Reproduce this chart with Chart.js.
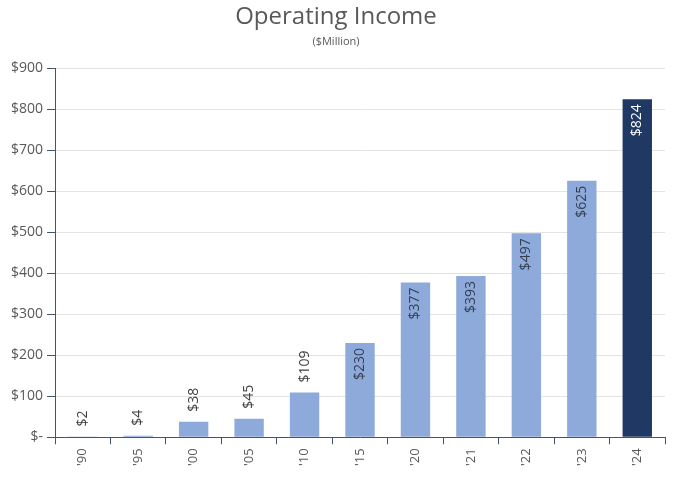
<!DOCTYPE html>
<html>
<head>
<meta charset="utf-8">
<script src="https://cdn.jsdelivr.net/npm/chart.js@4"></script>
<style>
  html, body { margin: 0; padding: 0; background: #fff; }
  #wrap { width: 673px; height: 484px; }
</style>
</head>
<body>
<div id="wrap"><canvas id="chart"></canvas></div>
<script>
const years = ["'90", "'95", "'00", "'05", "'10", "'15", "'20", "'21", "'22", "'23", "'24"]
const income = [2, 4, 38, 45, 109, 230, 377, 393, 497, 625, 824]
const barColors = ['#8eaadb', '#8eaadb', '#8eaadb', '#8eaadb', '#8eaadb', '#8eaadb',
  '#8eaadb', '#8eaadb', '#8eaadb', '#8eaadb', '#1f3864']
const labelColors = ['#333f50', '#333f50', '#333f50', '#333f50', '#333f50', '#333f50',
  '#333f50', '#333f50', '#333f50', '#333f50', '#ffffff']
const insideFrom = 200

const fontFamily = "'Open Sans', 'Noto Sans', sans-serif"

// draws the rotated value labels, inside the bar top for tall bars, above for short ones
const barLabels = {
  id: 'barLabels',
  afterDatasetsDraw (chart) {
    const ctx = chart.ctx
    const meta = chart.getDatasetMeta(0)
    ctx.save()
    ctx.font = '14px ' + fontFamily
    ctx.textBaseline = 'middle'
    meta.data.forEach((bar, i) => {
      const v = income[i]
      const text = '$' + v
      ctx.save()
      ctx.translate(bar.x, bar.y)
      ctx.rotate(-Math.PI / 2)
      if (v >= insideFrom) {
        ctx.textAlign = 'right'
        ctx.fillStyle = labelColors[i]
        ctx.fillText(text, -5, 0)
      } else {
        ctx.textAlign = 'left'
        ctx.fillStyle = '#404040'
        ctx.fillText(text, 10, 0)
      }
      ctx.restore()
    })
    ctx.restore()
  }
}

const whiteBg = {
  id: 'whiteBg',
  beforeDraw (chart) {
    const ctx = chart.ctx
    ctx.save()
    ctx.fillStyle = '#fff'
    ctx.fillRect(0, 0, chart.width, chart.height)
    ctx.restore()
  }
}

new Chart(document.getElementById('chart'), {
  type: 'bar',
  data: {
    labels: years,
    datasets: [{
      data: income,
      backgroundColor: barColors,
      categoryPercentage: 1,
      barPercentage: 0.53
    }]
  },
  plugins: [whiteBg, barLabels],
  options: {
    responsive: true,
    maintainAspectRatio: false,
    animation: false,
    layout: { padding: { left: 7, right: 8, top: 0, bottom: 14 } },
    plugins: {
      legend: { display: false },
      tooltip: { enabled: false },
      title: {
        display: true,
        text: 'Operating Income',
        color: '#595959',
        font: { family: fontFamily, size: 24, weight: 'normal' },
        padding: { top: 3, bottom: 1 }
      },
      subtitle: {
        display: true,
        text: '($Million)',
        color: '#595959',
        font: { family: fontFamily, size: 11 },
        padding: { top: 2, bottom: 20 }
      }
    },
    scales: {
      x: {
        offset: true,
        grid: {
          offset: true,
          drawOnChartArea: false,
          drawTicks: true,
          tickLength: 7,
          color: '#44546a'
        },
        border: { color: '#44546a', width: 1 },
        ticks: {
          color: '#595959',
          font: { family: fontFamily, size: 13 },
          minRotation: 90,
          maxRotation: 90,
          padding: 4
        }
      },
      y: {
        min: 0,
        max: 900,
        grid: {
          color: '#e3e3e3',
          tickColor: '#44546a',
          tickLength: 8
        },
        border: { color: '#44546a', width: 1 },
        ticks: {
          stepSize: 100,
          color: '#595959',
          font: { family: fontFamily, size: 14 },
          padding: 4,
          callback: v => v === 0 ? '$-' : '$' + v
        }
      }
    }
  }
})
</script>
</body>
</html>
